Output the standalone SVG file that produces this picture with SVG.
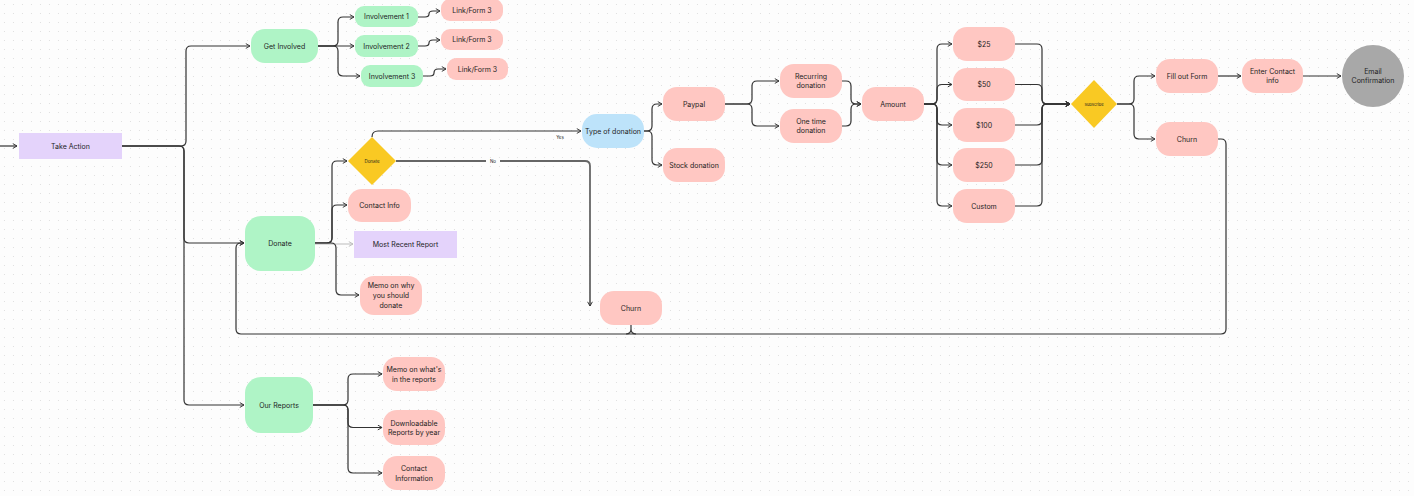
<svg xmlns="http://www.w3.org/2000/svg" width="1414" height="496" viewBox="0 0 1414 496">
<style>
.t{font-family:Inter,"Liberation Sans",sans-serif;font-size:7px;fill:#1e1e1e;text-anchor:middle;dominant-baseline:central}
.s{font-family:Inter,"Liberation Sans",sans-serif;font-size:4.5px;fill:#1e1e1e;text-anchor:middle;dominant-baseline:central}
.g{fill:#aff4c6}.p{fill:#ffc7c2}.v{fill:#e4d3fb}.b{fill:#bde3fa}.y{fill:#f9c923}.c{fill:#a8a8a8}
.e{fill:none;stroke:#333;stroke-width:1.2}
.n{fill:none;stroke:#666;stroke-width:1.8}
.l{fill:none;stroke:#bbb;stroke-width:1.2}
</style>
<defs>
<pattern id="dots" width="9" height="9" patternUnits="userSpaceOnUse"><circle cx="4.5" cy="4.5" r="0.6" fill="#dcdcdc"/></pattern>
<marker id="a" viewBox="0 0 10 10" refX="9" refY="5" markerWidth="6" markerHeight="6" markerUnits="userSpaceOnUse" orient="auto"><path d="M2,1 L9,5 L2,9" fill="none" stroke="#333" stroke-width="1.6"/></marker>
<marker id="al" viewBox="0 0 10 10" refX="9" refY="5" markerWidth="6" markerHeight="6" markerUnits="userSpaceOnUse" orient="auto"><path d="M2,1 L9,5 L2,9" fill="none" stroke="#bbb" stroke-width="1.6"/></marker>
</defs>
<rect width="1414" height="496" fill="#fdfdfd"/>
<rect width="1414" height="496" fill="url(#dots)"/>
<g id="connectors">
<path class="e" marker-end="url(#a)" d="M0,146 H17"/>
<path class="e" marker-end="url(#a)" d="M122,146 H181 Q186,146 186,141 V51 Q186,46 191,46 H250"/>
<path class="e" marker-end="url(#a)" d="M122,146 H179 Q184,146 184,151 V238 Q184,243 189,243 H244"/>
<path class="e" marker-end="url(#a)" d="M122,146 H179 Q184,146 184,151 V400 Q184,405 189,405 H244"/>
<path class="e" marker-end="url(#a)" d="M318,46 H333 Q338,46 338,41 V22 Q338,17 343,17 H354"/>
<path class="e" marker-end="url(#a)" d="M318,46 H354"/>
<path class="e" marker-end="url(#a)" d="M318,46 H333 Q338,46 338,51 V71 Q338,76 343,76 H360"/>
<path class="e" marker-end="url(#a)" d="M418,17 H425 Q429,17 429,14 Q429,11 433,11 H440"/>
<path class="e" marker-end="url(#a)" d="M418,46 H425 Q429,46 429,43 Q429,40 433,40 H440"/>
<path class="e" marker-end="url(#a)" d="M423,76 H430 Q434,76 434,73 Q434,69 438,69 H446"/>
<path class="e" marker-end="url(#a)" d="M315,243 H327 Q332,243 332,238 V166 Q332,161 337,161 H347"/>
<path class="e" marker-end="url(#a)" d="M315,243 H327 Q332,243 332,238 V210 Q332,205 337,205 H347"/>
<path class="l" marker-end="url(#al)" d="M315,244 H353"/>
<path class="e" marker-end="url(#a)" d="M315,243 H331 Q336,243 336,248 V290 Q336,295 341,295 H359"/>
<path class="e" marker-end="url(#a)" d="M372,137 Q372,131 378,131 H581"/>
<text class="s" x="560" y="137">Yes</text>
<path class="n" marker-end="url(#a)" d="M396,161 H585 Q590,161 590,166 V306"/>
<rect x="486" y="158" width="14" height="6" fill="#fdfdfd"/>
<text class="s" x="493" y="161">No</text>
<path class="e" marker-end="url(#a)" d="M1218,139 H1221 Q1226,139 1226,144 V329 Q1226,334 1221,334 H241 Q236,334 236,329 V248 Q236,243 241,243 H244"/>
<path class="e" d="M631,325 V329 Q631,334 626,334 M631,329 Q631,334 636,334"/>
<path class="e" marker-end="url(#a)" d="M644,131 H647 Q652,131 652,126 V109 Q652,104 657,104 H662"/>
<path class="e" marker-end="url(#a)" d="M644,131 H647 Q652,131 652,136 V160 Q652,165 657,165 H662"/>
<path class="e" marker-end="url(#a)" d="M725,104 H747 Q752,104 752,99 V86 Q752,81 757,81 H779"/>
<path class="e" marker-end="url(#a)" d="M725,104 H747 Q752,104 752,109 V121 Q752,126 757,126 H779"/>
<path class="e" marker-end="url(#a)" d="M842,81 H846 Q851,81 851,86 V99 Q851,104 856,104 H861"/>
<path class="e" marker-end="url(#a)" d="M842,126 H846 Q851,126 851,121 V109 Q851,104 856,104 H861"/>
<path class="e" marker-end="url(#a)" d="M924,104 H932 Q937,104 937,99 V49 Q937,44 942,44 H952"/>
<path class="e" marker-end="url(#a)" d="M924,104 H932 Q937,104 937,99 V89.5 Q937,84.5 942,84.5 H952"/>
<path class="e" marker-end="url(#a)" d="M924,104 H932 Q937,104 937,109 V120 Q937,125 942,125 H952"/>
<path class="e" marker-end="url(#a)" d="M924,104 H932 Q937,104 937,109 V160 Q937,165 942,165 H952"/>
<path class="e" marker-end="url(#a)" d="M924,104 H932 Q937,104 937,109 V201 Q937,206 942,206 H952"/>
<path class="e" marker-end="url(#a)" d="M1015,44 H1037 Q1042,44 1042,49 V99 Q1042,104 1047,104 H1070"/>
<path class="e" marker-end="url(#a)" d="M1015,84.5 H1037 Q1042,84.5 1042,89.5 V99 Q1042,104 1047,104 H1070"/>
<path class="e" marker-end="url(#a)" d="M1015,125 H1037 Q1042,125 1042,120 V109 Q1042,104 1047,104 H1070"/>
<path class="e" marker-end="url(#a)" d="M1015,165 H1037 Q1042,165 1042,160 V109 Q1042,104 1047,104 H1070"/>
<path class="e" marker-end="url(#a)" d="M1015,206 H1037 Q1042,206 1042,201 V109 Q1042,104 1047,104 H1070"/>
<path class="e" marker-end="url(#a)" d="M1117,104 H1129 Q1134,104 1134,99 V81 Q1134,76 1139,76 H1155"/>
<path class="e" marker-end="url(#a)" d="M1117,104 H1129 Q1134,104 1134,109 V134 Q1134,139 1139,139 H1155"/>
<path class="e" marker-end="url(#a)" d="M1218,76 H1241"/>
<path class="e" marker-end="url(#a)" d="M1303,76 H1341"/>
<path class="e" marker-end="url(#a)" d="M313,405 H343 Q348,405 348,400 V379 Q348,374 353,374 H382"/>
<path class="e" marker-end="url(#a)" d="M313,405 H343 Q348,405 348,410 V422.5 Q348,427.5 353,427.5 H382"/>
<path class="e" marker-end="url(#a)" d="M313,405 H343 Q348,405 348,410 V468 Q348,473 353,473 H382"/>
</g>
<g id="take-action"><rect class="v" x="19" y="133" width="103" height="26"/><text class="t" x="70.5" y="146">Take Action</text></g>
<g id="get-involved"><rect class="g" x="251" y="29" width="67" height="34" rx="14"/><text class="t" x="284.5" y="46">Get Involved</text></g>
<g id="involvement-1"><rect class="g" x="355" y="6" width="63" height="21" rx="9"/><text class="t" x="386.5" y="16.5">Involvement 1</text></g>
<g id="involvement-2"><rect class="g" x="355" y="35" width="63" height="22" rx="9"/><text class="t" x="386.5" y="46">Involvement 2</text></g>
<g id="involvement-3"><rect class="g" x="361" y="65" width="62" height="22" rx="9"/><text class="t" x="392" y="76">Involvement 3</text></g>
<g id="link-1"><rect class="p" x="441" y="-1" width="62" height="22" rx="9"/><text class="t" x="472" y="10.5">Link/Form 3</text></g>
<g id="link-2"><rect class="p" x="441" y="29" width="62" height="21" rx="9"/><text class="t" x="472" y="39.5">Link/Form 3</text></g>
<g id="link-3"><rect class="p" x="447" y="58" width="61" height="22" rx="9"/><text class="t" x="477.5" y="69">Link/Form 3</text></g>
<g id="donate"><rect class="g" x="245" y="216" width="70" height="55" rx="16"/><text class="t" x="280" y="243.5">Donate</text></g>
<g id="donate-decision"><path class="y" d="M372,137 L396,161 L372,185 L348,161 Z"/><text class="s" x="372" y="161">Donate</text></g>
<g id="contact-info"><rect class="p" x="348" y="189" width="63" height="33" rx="14"/><text class="t" x="379.5" y="205.5">Contact Info</text></g>
<g id="most-recent-report"><rect class="v" x="354" y="231" width="103" height="27"/><text class="t" x="405.5" y="244.5">Most Recent Report</text></g>
<g id="memo-donate"><rect class="p" x="360" y="276" width="62" height="39" rx="14"/><text class="t" x="391" y="285.5">Memo on why</text><text class="t" x="391" y="295.5">you should</text><text class="t" x="391" y="305.5">donate</text></g>
<g id="our-reports"><rect class="g" x="245" y="377" width="68" height="56" rx="16"/><text class="t" x="279" y="405.5">Our Reports</text></g>
<g id="memo-reports"><rect class="p" x="383" y="357" width="62" height="34" rx="14"/><text class="t" x="414" y="369.5">Memo on what's</text><text class="t" x="414" y="379">in the reports</text></g>
<g id="downloadable"><rect class="p" x="383" y="410" width="62" height="35" rx="14"/><text class="t" x="414" y="423">Downloadable</text><text class="t" x="414" y="432.5">Reports by year</text></g>
<g id="contact-information"><rect class="p" x="383" y="456" width="62" height="34" rx="14"/><text class="t" x="414" y="468.5">Contact</text><text class="t" x="414" y="478">Information</text></g>
<g id="churn-mid"><rect class="p" x="600" y="291" width="62" height="34" rx="14"/><text class="t" x="631" y="308">Churn</text></g>
<g id="type-of-donation"><rect class="b" x="582" y="114" width="62" height="34" rx="15"/><text class="t" x="613" y="131">Type of donation</text></g>
<g id="paypal"><rect class="p" x="663" y="87" width="62" height="34" rx="14"/><text class="t" x="694" y="104">Paypal</text></g>
<g id="stock-donation"><rect class="p" x="663" y="148" width="62" height="34" rx="14"/><text class="t" x="694" y="165">Stock donation</text></g>
<g id="recurring"><rect class="p" x="780" y="64" width="62" height="34" rx="14"/><text class="t" x="811" y="76">Recurring</text><text class="t" x="811" y="85.5">donation</text></g>
<g id="one-time"><rect class="p" x="780" y="109" width="62" height="34" rx="14"/><text class="t" x="811" y="121">One time</text><text class="t" x="811" y="130.5">donation</text></g>
<g id="amount"><rect class="p" x="862" y="87" width="62" height="34" rx="14"/><text class="t" x="893" y="104">Amount</text></g>
<g id="d25"><rect class="p" x="953" y="27" width="62" height="34" rx="14"/><text class="t" x="984" y="44">$25</text></g>
<g id="d50"><rect class="p" x="953" y="68" width="62" height="33" rx="14"/><text class="t" x="984" y="84.5">$50</text></g>
<g id="d100"><rect class="p" x="953" y="108" width="62" height="34" rx="14"/><text class="t" x="984" y="125">$100</text></g>
<g id="d250"><rect class="p" x="953" y="148" width="62" height="34" rx="14"/><text class="t" x="984" y="165">$250</text></g>
<g id="custom"><rect class="p" x="953" y="189" width="62" height="34" rx="14"/><text class="t" x="984" y="206">Custom</text></g>
<g id="subscribe"><path class="y" d="M1094,80 L1117,104 L1094,128 L1071,104 Z"/><text class="s" x="1094" y="104" style="font-size:4px">Subscribe</text></g>
<g id="fill-out-form"><rect class="p" x="1156" y="59" width="62" height="34" rx="14"/><text class="t" x="1187" y="76">Fill out Form</text></g>
<g id="enter-contact"><rect class="p" x="1242" y="59" width="61" height="34" rx="14"/><text class="t" x="1272.5" y="71">Enter Contact</text><text class="t" x="1272.5" y="80.5">info</text></g>
<g id="email-confirmation"><circle class="c" cx="1373" cy="76" r="31"/><text class="t" x="1373" y="71">Email</text><text class="t" x="1373" y="80.5">Confirmation</text></g>
<g id="churn-right"><rect class="p" x="1156" y="122" width="62" height="34" rx="14"/><text class="t" x="1187" y="139">Churn</text></g>
</svg>
